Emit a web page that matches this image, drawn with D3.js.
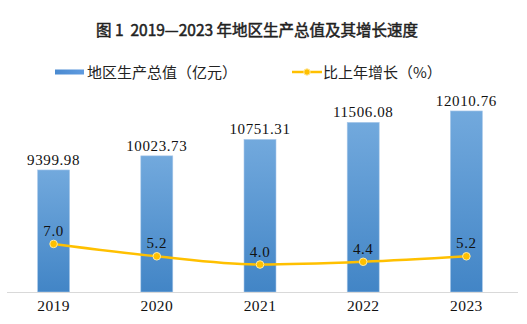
<!DOCTYPE html>
<html><head><meta charset="utf-8">
<script src="https://cdn.jsdelivr.net/npm/d3@7"></script>
<style>body{margin:0;background:#fff}svg{display:block}</style>
</head><body>
<script>
const years = ["2019","2020","2021","2022","2023"];
const gdp = [9399.98, 10023.73, 10751.31, 11506.08, 12010.76];
const growth = [7.0, 5.2, 4.0, 4.4, 5.2];
const titleText = "图 1  2019—2023 年地区生产总值及其增长速度";
const legendBar = "地区生产总值（亿元）";
const legendLine = "比上年增长（%）";

const W = 527, H = 324;
const svg = d3.select("body").append("svg").attr("width", W).attr("height", H);

const x = d3.scaleBand().domain(years).range([2, 518]).paddingInner(0.69).paddingOuter(0.345);
const yBar = d3.scaleLinear().domain([4000, 14000]).range([292, 66]);
const yLine = d3.scaleLinear().domain([0, 30]).range([292, 86]);

const defs = svg.append("defs");
const grad = defs.append("linearGradient").attr("id","bg").attr("x1",0).attr("y1",0).attr("x2",0).attr("y2",1);
grad.append("stop").attr("offset","0%").attr("stop-color","#72a9dd");
grad.append("stop").attr("offset","100%").attr("stop-color","#4285c6");
const lg = defs.append("linearGradient").attr("id","lg").attr("x1",0).attr("y1",0).attr("x2",1).attr("y2",0);
lg.append("stop").attr("offset","0%").attr("stop-color","#4a8ad0");
lg.append("stop").attr("offset","100%").attr("stop-color","#5f9be0");

// title
svg.append("text").attr("x", 257).attr("y", 36).attr("text-anchor","middle")
  .attr("font-family","'Noto Sans CJK SC', sans-serif").attr("font-size", 15.5).attr("font-weight", "normal")
  .attr("stroke","#222").attr("stroke-width",0.5)
  .attr("fill","#222").style("white-space","pre").text(titleText);

// legend
svg.append("rect").attr("x",55).attr("y",69.5).attr("width",29).attr("height",5).attr("fill","url(#lg)");
svg.append("text").attr("x",87).attr("y",77.5).attr("font-family","'Noto Sans CJK SC', sans-serif")
  .attr("font-size",15).attr("fill","#222").text(legendBar);
svg.append("line").attr("x1",292).attr("x2",322).attr("y1",72).attr("y2",72).attr("stroke","#ffc000").attr("stroke-width",2.5);
svg.append("circle").attr("cx",307).attr("cy",72).attr("r",3.2).attr("fill","#ffc000").attr("stroke","#ffe79a").attr("stroke-width",1);
svg.append("text").attr("x",323).attr("y",77.5).attr("font-family","'Noto Sans CJK SC', sans-serif")
  .attr("font-size",15).attr("fill","#222").text(legendLine);

// bars
svg.selectAll("rect.bar").data(gdp).enter().append("rect").attr("class","bar")
  .attr("x",(d,i)=>x(years[i])).attr("width",x.bandwidth())
  .attr("y",d=>yBar(d)).attr("height",d=>292-yBar(d))
  .attr("fill","url(#bg)").attr("stroke","#a9c8ea").attr("stroke-width",0.6);

svg.selectAll("text.bv").data(gdp).enter().append("text").attr("class","bv")
  .attr("x",(d,i)=>x(years[i])+x.bandwidth()/2).attr("y",d=>yBar(d)-5)
  .attr("text-anchor","middle").attr("font-family","'Liberation Serif', serif").attr("font-size",15)
  .attr("letter-spacing",0.6).attr("fill","#111").text(d=>d.toFixed(2));

// axis
const axis = svg.append("g").attr("transform","translate(0,292)").call(d3.axisBottom(x).tickSize(0).tickSizeOuter(0).tickPadding(8));
axis.select(".domain").attr("stroke","#d9d9d9").attr("stroke-width",1).attr("d","M7,0.5H518");
axis.selectAll("text").attr("font-family","'Liberation Serif', serif").attr("font-size",15.5)
  .attr("letter-spacing",0.4).attr("fill","#111").attr("dy","0.71em");

// line
const line = d3.line().x((d,i)=>x(years[i])+x.bandwidth()/2).y(d=>yLine(d)).curve(d3.curveMonotoneX);
svg.append("path").datum(growth).attr("d",line).attr("fill","none").attr("stroke","#ffc000").attr("stroke-width",2.5);
svg.selectAll("circle.pt").data(growth).enter().append("circle").attr("class","pt")
  .attr("cx",(d,i)=>x(years[i])+x.bandwidth()/2).attr("cy",d=>yLine(d)).attr("r",3.8)
  .attr("fill","#ffc000").attr("stroke","#ffeaa0").attr("stroke-width",1);
svg.selectAll("text.lv").data(growth).enter().append("text").attr("class","lv")
  .attr("x",(d,i)=>x(years[i])+x.bandwidth()/2).attr("y",d=>yLine(d)-8)
  .attr("text-anchor","middle").attr("font-family","'Liberation Serif', serif").attr("font-size",15)
  .attr("letter-spacing",0.6).attr("fill","#111").text(d=>d.toFixed(1));
</script>
</body></html>
